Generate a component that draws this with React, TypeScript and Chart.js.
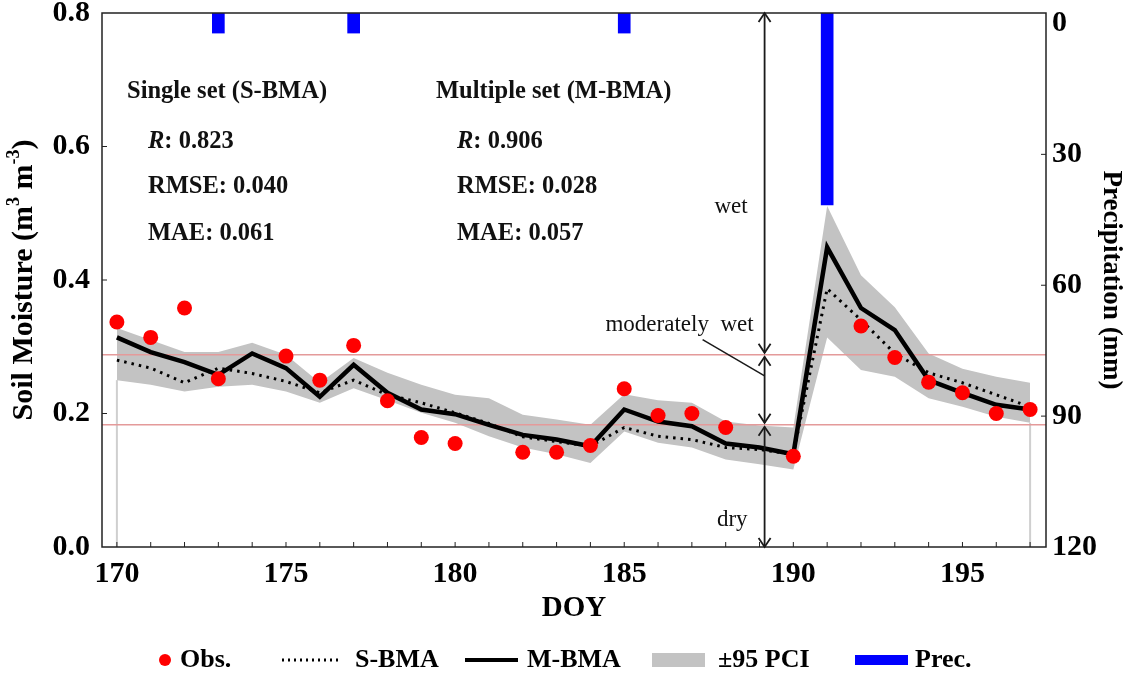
import React, { useEffect, useRef } from "react";
import { Chart, registerables } from "chart.js";

Chart.register(...registerables);

// Day of year for the modelled series
const doy = [170, 171, 172, 173, 174, 175, 176, 177, 178, 179, 180, 181, 182, 183, 184, 185, 186, 187, 188, 189, 190, 191, 192, 193, 194, 195, 196, 197];

// Observed soil moisture (m3 m-3)
const obsDoy = [170, 171, 172, 173, 175, 176, 177, 178, 179, 180, 182, 183, 184, 185, 186, 187, 188, 190, 192, 193, 194, 195, 196, 197];
const obsSm = [0.337, 0.314, 0.358, 0.252, 0.286, 0.25, 0.302, 0.219, 0.164, 0.155, 0.142, 0.142, 0.152, 0.237, 0.197, 0.2, 0.179, 0.136, 0.331, 0.284, 0.247, 0.231, 0.2, 0.206];

// Ensemble estimates
const sBma = [0.28, 0.268, 0.246, 0.268, 0.26, 0.248, 0.231, 0.25, 0.228, 0.216, 0.201, 0.185, 0.165, 0.158, 0.151, 0.179, 0.166, 0.161, 0.149, 0.146, 0.139, 0.387, 0.34, 0.29, 0.261, 0.246, 0.228, 0.21];
const mBma = [0.314, 0.292, 0.277, 0.258, 0.29, 0.268, 0.225, 0.273, 0.231, 0.206, 0.199, 0.183, 0.168, 0.161, 0.151, 0.206, 0.188, 0.181, 0.155, 0.149, 0.139, 0.449, 0.358, 0.325, 0.25, 0.231, 0.213, 0.206];

// 95% predictive confidence interval of M-BMA
const pciUpper = [0.328, 0.31, 0.292, 0.292, 0.306, 0.288, 0.246, 0.283, 0.261, 0.243, 0.228, 0.223, 0.198, 0.191, 0.183, 0.229, 0.22, 0.216, 0.188, 0.182, 0.179, 0.511, 0.407, 0.359, 0.29, 0.267, 0.255, 0.246];
const pciLower = [0.25, 0.243, 0.233, 0.24, 0.243, 0.233, 0.216, 0.238, 0.22, 0.201, 0.186, 0.166, 0.149, 0.139, 0.126, 0.173, 0.156, 0.149, 0.131, 0.124, 0.116, 0.314, 0.265, 0.255, 0.223, 0.21, 0.195, 0.186];

// Precipitation events (mm)
const precDoy = [173, 177, 185, 191];
const precMm = [2.2, 2.2, 2.2, 41.6];

// Wetness class thresholds (m3 m-3)
const thresholds = [0.183, 0.288];
const zoneArrowDoy = 189.15;
const zoneLabels = ["wet", "moderately  wet", "dry"];
const zoneLabelLevels = [0.51, 0.333, 0.04];

// Axis ranges and ticks
const xTicks = [170, 175, 180, 185, 190, 195];
const yTicks = [0, 0.2, 0.4, 0.6, 0.8];
const y2Ticks = [0, 30, 60, 90, 120];
const xMin = 169.56;
const xMax = 197.47;
const precAxisMin = -2.4;
const precAxisMax = 120;

// Skill scores
const statNames = ["R", "RMSE", "MAE"];
const sBmaStats = ["0.823", "0.040", "0.061"];
const mBmaStats = ["0.906", "0.028", "0.057"];

const SERIF = "'Liberation Serif', 'Times New Roman', serif";

const pts = (xs: number[], ys: number[]) => xs.map((x, i) => ({ x, y: ys[i] }));

const overlayPlugin = {
  id: "overlay",
  afterDatasetsDraw(chart: any) {
    const { ctx, chartArea: a, scales } = chart;
    const x = scales.x;
    const y = scales.y;
    const y2 = scales.y2;
    ctx.save();

    // frame and inward ticks
    ctx.strokeStyle = "#222";
    ctx.lineWidth = 1.5;
    ctx.strokeRect(a.left, a.top, a.right - a.left, a.bottom - a.top);
    ctx.lineWidth = 1;
    ctx.beginPath();
    for (let d = 170; d <= 197; d++) {
      const px = x.getPixelForValue(d);
      ctx.moveTo(px, a.bottom);
      ctx.lineTo(px, a.bottom - 5);
    }
    for (const v of yTicks.slice(1, -1)) {
      const py = y.getPixelForValue(v);
      ctx.moveTo(a.left, py);
      ctx.lineTo(a.left + 5, py);
    }
    for (const v of y2Ticks.slice(1, -1)) {
      const py = y2.getPixelForValue(v);
      ctx.moveTo(a.right, py);
      ctx.lineTo(a.right - 5, py);
    }
    ctx.stroke();

    // wetness class arrows
    const ax = x.getPixelForValue(zoneArrowDoy);
    const bounds = [0.8, thresholds[1], thresholds[0], 0];
    ctx.strokeStyle = "#1a1a1a";
    ctx.lineWidth = 1.8;
    const head = (px: number, py: number, dir: number) => {
      ctx.beginPath();
      ctx.moveTo(px - 6, py - dir * 9);
      ctx.lineTo(px, py);
      ctx.lineTo(px + 6, py - dir * 9);
      ctx.stroke();
    };
    for (let i = 0; i < 3; i++) {
      const p1 = y.getPixelForValue(bounds[i]) + (i === 0 ? 0 : 2);
      const p2 = y.getPixelForValue(bounds[i + 1]) - (i === 2 ? 0 : 2);
      ctx.beginPath();
      ctx.moveTo(ax, p1);
      ctx.lineTo(ax, p2);
      ctx.stroke();
      head(ax, p1, -1);
      head(ax, p2, 1);
    }
    ctx.fillStyle = "#111";
    ctx.font = `23px ${SERIF}`;
    ctx.textAlign = "right";
    ctx.textBaseline = "middle";
    zoneLabels.forEach((t, i) => {
      const off = i === 1 ? 11 : 17;
      ctx.fillText(t, ax - off, y.getPixelForValue(zoneLabelLevels[i]));
    });
    // leader from the middle label to its band
    const ly = y.getPixelForValue(zoneLabelLevels[1]);
    ctx.lineWidth = 1.5;
    ctx.beginPath();
    ctx.moveTo(ax - 62, ly + 15);
    ctx.lineTo(ax, y.getPixelForValue((thresholds[0] + thresholds[1]) / 2 + 0.021));
    ctx.stroke();

    // skill score blocks
    const fs = 24.5;
    const block = (left: number, title: string, vals: string[]) => {
      ctx.textAlign = "left";
      ctx.textBaseline = "middle";
      ctx.font = `bold ${fs}px ${SERIF}`;
      ctx.fillText(title, left, 92);
      const rows = [142, 187, 234];
      statNames.forEach((n, i) => {
        let px = left + 21;
        if (n === "R") {
          ctx.font = `italic bold ${fs}px ${SERIF}`;
          ctx.fillText(n, px, rows[i]);
          px += ctx.measureText(n).width;
          ctx.font = `bold ${fs}px ${SERIF}`;
          ctx.fillText(`: ${vals[i]}`, px, rows[i]);
        } else {
          ctx.font = `bold ${fs}px ${SERIF}`;
          ctx.fillText(`${n}: ${vals[i]}`, px, rows[i]);
        }
      });
    };
    block(a.left + 25, "Single set (S-BMA)", sBmaStats);
    block(a.left + 334, "Multiple set (M-BMA)", mBmaStats);
    ctx.restore();
  },
  afterDraw(chart: any) {
    const { ctx, chartArea: a } = chart;
    ctx.save();
    // left axis title with superscripts
    const base = `bold 30px ${SERIF}`;
    const sup = `bold 18px ${SERIF}`;
    const parts: [string, boolean][] = [["Soil Moisture (m", false], ["3", true], [" m", false], ["-3", true], [")", false]];
    let total = 0;
    for (const [t, s] of parts) {
      ctx.font = s ? sup : base;
      total += ctx.measureText(t).width;
    }
    ctx.translate(24, (a.top + a.bottom) / 2);
    ctx.rotate(-Math.PI / 2);
    ctx.fillStyle = "#000";
    ctx.textBaseline = "middle";
    ctx.textAlign = "left";
    let px = -total / 2;
    for (const [t, s] of parts) {
      ctx.font = s ? sup : base;
      ctx.fillText(t, px, s ? -10 : 0);
      px += ctx.measureText(t).width;
    }
    ctx.setTransform(1, 0, 0, 1, 0, 0);

    // legend
    const ly = 660;
    ctx.font = `bold 26px ${SERIF}`;
    ctx.textBaseline = "middle";
    ctx.fillStyle = "#ff0000";
    ctx.beginPath();
    ctx.arc(165, ly, 6, 0, Math.PI * 2);
    ctx.fill();
    ctx.fillStyle = "#000";
    ctx.fillText("Obs.", 180, ly);

    ctx.strokeStyle = "#000";
    ctx.lineWidth = 3;
    ctx.setLineDash([2, 4]);
    ctx.beginPath();
    ctx.moveTo(282, ly);
    ctx.lineTo(340, ly);
    ctx.stroke();
    ctx.setLineDash([]);
    ctx.fillText("S-BMA", 355, ly);

    ctx.lineWidth = 4;
    ctx.beginPath();
    ctx.moveTo(465, ly);
    ctx.lineTo(518, ly);
    ctx.stroke();
    ctx.fillText("M-BMA", 527, ly);

    ctx.fillStyle = "#c3c3c3";
    ctx.fillRect(652, ly - 7, 53, 14);
    ctx.fillStyle = "#000";
    ctx.fillText("\u00b195 PCI", 718, ly);

    ctx.fillStyle = "#0000ff";
    ctx.fillRect(855, ly - 5, 53, 10);
    ctx.fillStyle = "#000";
    ctx.fillText("Prec.", 915, ly);
    ctx.restore();
  },
};

export default function App() {
  const ref = useRef<HTMLCanvasElement | null>(null);

  useEffect(() => {
    if (!ref.current) return;
    const tickFont = { family: SERIF, size: 30, weight: "bold" as const };
    const chart = new Chart(ref.current, {
      type: "line",
      data: {
        datasets: [
          {
            label: "Obs.",
            data: pts(obsDoy, obsSm),
            showLine: false,
            pointRadius: 7.5,
            pointBackgroundColor: "#ff0000",
            pointBorderWidth: 0,
            order: 0,
          },
          {
            label: "M-BMA",
            data: pts(doy, mBma),
            borderColor: "#000",
            borderWidth: 4.5,
            pointRadius: 0,
            order: 1,
          },
          {
            label: "S-BMA",
            data: pts(doy, sBma),
            borderColor: "#000",
            borderWidth: 3,
            borderDash: [2.5, 5],
            pointRadius: 0,
            order: 2,
          },
          ...thresholds.map((t) => ({
            label: "threshold",
            data: [{ x: xMin, y: t }, { x: xMax, y: t }],
            borderColor: "#e49a9a",
            borderWidth: 1.5,
            pointRadius: 0,
            order: 3,
          })),
          {
            label: "PCI lower",
            data: pts(doy, pciLower),
            borderColor: "rgba(0,0,0,0)",
            pointRadius: 0,
            fill: false,
            order: 5,
          },
          {
            label: "\u00b195 PCI",
            data: pts(doy, pciUpper),
            borderColor: "rgba(0,0,0,0)",
            backgroundColor: "#c3c3c3",
            pointRadius: 0,
            fill: "-1",
            order: 5,
          },
          {
            label: "edge",
            data: [{ x: doy[0], y: 0 }, { x: doy[0], y: pciLower[0] }],
            borderColor: "#cfcfcf",
            borderWidth: 2,
            pointRadius: 0,
            order: 6,
          },
          {
            label: "edge",
            data: [{ x: doy[doy.length - 1], y: 0 }, { x: doy[doy.length - 1], y: pciLower[pciLower.length - 1] }],
            borderColor: "#cfcfcf",
            borderWidth: 2,
            pointRadius: 0,
            order: 6,
          },
          {
            type: "bar",
            label: "Prec.",
            data: pts(precDoy, precMm),
            yAxisID: "y2",
            base: precAxisMin,
            backgroundColor: "#0000ff",
            barThickness: 12,
            order: 4,
          } as any,
        ],
      },
      options: {
        animation: false,
        responsive: true,
        maintainAspectRatio: false,
        layout: { padding: { top: 13, bottom: 54, left: 0, right: 0 } },
        plugins: { legend: { display: false }, tooltip: { enabled: false } },
        scales: {
          x: {
            type: "linear",
            offset: false,
            min: xMin,
            max: xMax,
            afterBuildTicks: (s: any) => {
              s.ticks = xTicks.map((v) => ({ value: v }));
            },
            afterFit: (s: any) => {
              s.height = 76;
            },
            ticks: { font: tickFont, color: "#000", padding: 9, maxRotation: 0, autoSkip: false },
            grid: { display: false, drawTicks: false, offset: false },
            border: { display: false },
            title: {
              display: true,
              text: "DOY",
              color: "#000",
              font: { family: SERIF, size: 29, weight: "bold", lineHeight: 1 },
              padding: { top: 0, bottom: 0 },
            },
          },
          y: {
            type: "linear",
            position: "left",
            min: 0,
            max: 0.8,
            afterBuildTicks: (s: any) => {
              s.ticks = yTicks.map((v) => ({ value: v }));
            },
            afterFit: (s: any) => {
              s.width = 102;
              s.paddingTop = 0;
              s.paddingBottom = 0;
            },
            ticks: { font: tickFont, color: "#000", padding: 12, callback: (v: any) => Number(v).toFixed(1) },
            grid: { display: false, drawTicks: false },
            border: { display: false },
          },
          y2: {
            type: "linear",
            position: "right",
            min: precAxisMin,
            max: precAxisMax,
            reverse: true,
            afterBuildTicks: (s: any) => {
              s.ticks = y2Ticks.map((v) => ({ value: v }));
            },
            afterFit: (s: any) => {
              s.width = 83;
              s.paddingTop = 0;
              s.paddingBottom = 0;
            },
            ticks: { font: tickFont, color: "#000", padding: 6 },
            grid: { display: false, drawTicks: false },
            border: { display: false },
            title: {
              display: true,
              text: "Precipitation (mm)",
              color: "#000",
              font: { family: SERIF, size: 27, weight: "bold", lineHeight: 1 },
              padding: { top: 5, bottom: 0 },
            },
          },
        },
      },
      plugins: [overlayPlugin],
    });
    return () => chart.destroy();
  }, []);

  return (
    <div style={{ position: "fixed", left: 0, top: 0, width: 1129, height: 677, background: "#fff" }}>
      <canvas ref={ref} />
    </div>
  );
}
